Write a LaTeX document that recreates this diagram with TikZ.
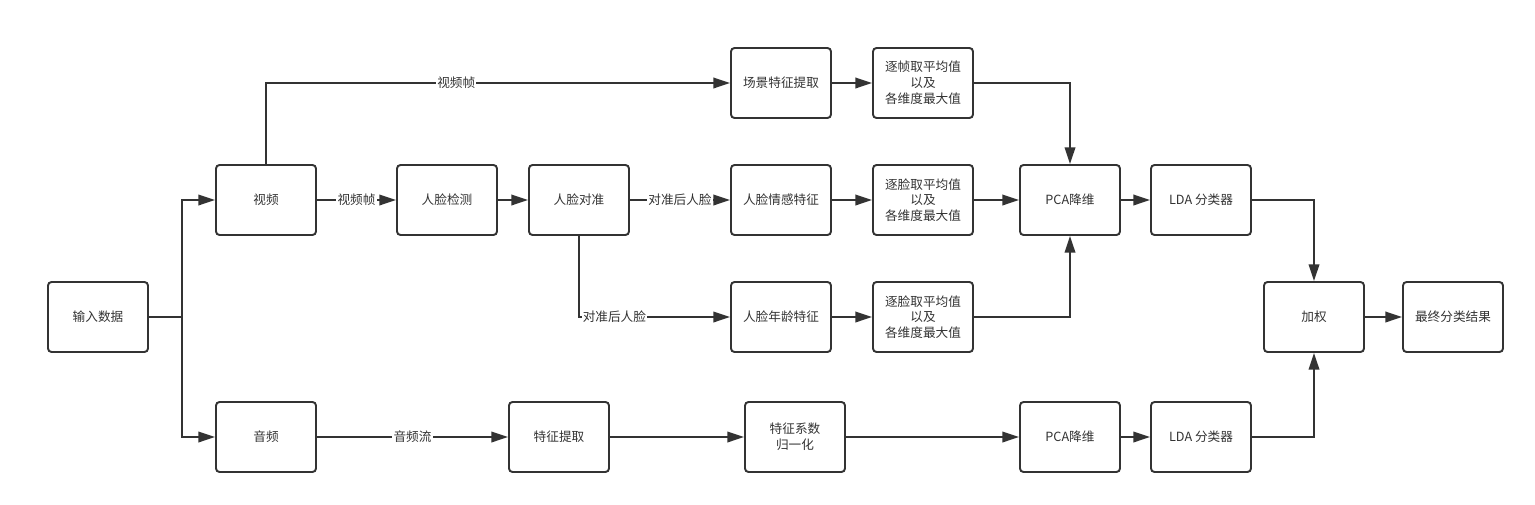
\documentclass[tikz,border=0pt]{standalone}
\usepackage{fontspec}
\setmainfont{Noto Sans CJK SC}
\usetikzlibrary{positioning,arrows.meta}

\begin{document}
\begin{tikzpicture}[
	% --- one unit = one pixel of the reference ---
	x=0.02cm, y=-0.02cm,
	% box
	blk/.style={
		draw=black!80, line width=1.1pt, rounded corners=2pt,
		minimum width=2cm, minimum height=1.4cm, inner sep=1pt,
		align=center, text=black!80,
		font=\fontsize{7.2}{9}\selectfont
	},
	% connector
	conn/.style={draw=black!80, line width=1.1pt, -{Triangle[length=9.5pt,width=6pt]}},
	% text on a connector
	lbl/.style={fill=white, inner sep=0.6pt, text=black!80, font=\fontsize{7.2}{9}\selectfont}
	]
	\useasboundingbox (0,0) rectangle (1535,504);

	% Input and the two streams
	\node[blk] (input) at (98,317) {输入数据};
	\node[blk] (video) at (266,200) {视频};
	\node[blk] (audio) at (266,437) {音频};
	\coordinate (split) at (182,317);

	% Video branch
	\node[blk] (detect) at (447,200) {人脸检测};
	\node[blk] (align) at (579,200) {人脸对准};
	\node[blk] (scene) at (781,83) {场景特征提取};
	\node[blk] (emo) at (781,200) {人脸情感特征};
	\node[blk] (age) at (781,317) {人脸年龄特征};
	\node[blk] (poolS) at (923,83) {逐帧取平均值\\以及\\各维度最大值};
	\node[blk] (poolE) at (923,200) {逐脸取平均值\\以及\\各维度最大值};
	\node[blk] (poolA) at (923,317) {逐脸取平均值\\以及\\各维度最大值};
	\node[blk] (pcaV) at (1070,200) {PCA降维};
	\node[blk] (ldaV) at (1201,200) {LDA 分类器};

	% Audio branch
	\node[blk] (feat) at (559,437) {特征提取};
	\node[blk] (norm) at (795,437) {特征系数\\归一化};
	\node[blk] (pcaA) at (1070,437) {PCA降维};
	\node[blk] (ldaA) at (1201,437) {LDA 分类器};

	% Fusion
	\node[blk] (weight) at (1314,317) {加权};
	\node[blk] (result) at (1453,317) {最终分类结果};

	% --- connectors ---
	\draw[draw=black!80, line width=1.1pt] (input) -- (split);
	\draw[conn] (split) |- (video);
	\draw[conn] (split) |- (audio);

	\draw[conn] (video.north) |- node[lbl, pos=0.705] {视频帧} (scene);
	\draw[conn] (video) -- node[lbl] {视频帧} (detect);
	\draw[conn] (detect) -- (align);
	\draw[conn] (align) -- node[lbl] {对准后人脸} (emo);
	\draw[conn] (align.south) |- node[lbl, pos=0.5, anchor=west, xshift=1pt] {对准后人脸} (age);

	\draw[conn] (scene) -- (poolS);
	\draw[conn] (emo) -- (poolE);
	\draw[conn] (age) -- (poolA);

	\draw[conn] (poolS) -| (pcaV);
	\draw[conn] (poolE) -- (pcaV);
	\draw[conn] (poolA) -| (pcaV);
	\draw[conn] (pcaV) -- (ldaV);

	\draw[conn] (audio) -- node[lbl] {音频流} (feat);
	\draw[conn] (feat) -- (norm);
	\draw[conn] (norm) -- (pcaA);
	\draw[conn] (pcaA) -- (ldaA);

	\draw[conn] (ldaV) -| (weight);
	\draw[conn] (ldaA) -| (weight);
	\draw[conn] (weight) -- (result);
\end{tikzpicture}
\end{document}
